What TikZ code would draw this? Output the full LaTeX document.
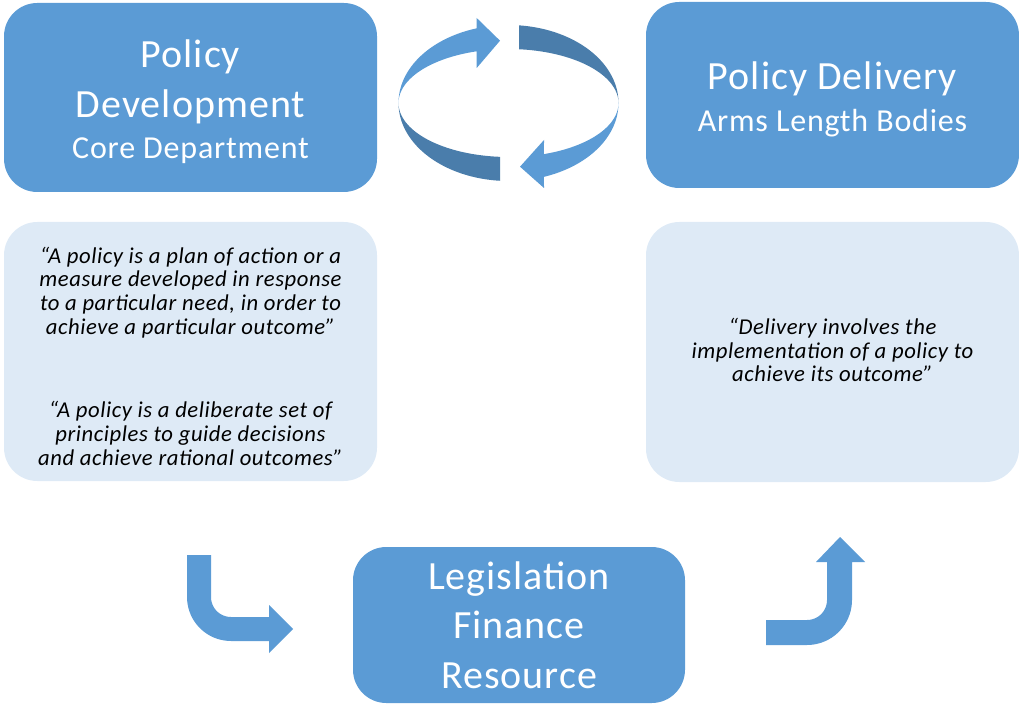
\documentclass[tikz,border=0pt]{standalone}
\usepackage{fontspec}
\setmainfont{Carlito}[LetterSpace=2.5]
\definecolor{boxblue}{HTML}{5B9BD5}
\definecolor{lightblue}{HTML}{DEEAF6}
\definecolor{ringdark}{HTML}{4A7DAB}
\begin{document}
\begin{tikzpicture}[x=0.75pt,y=-0.75pt,
  bigbox/.style={fill=boxblue, rounded corners=25pt, inner sep=0pt},
  quotebox/.style={fill=lightblue, rounded corners=25pt, inner sep=0pt},
  titletext/.style={text=white, align=center, inner sep=0pt, font=\fontsize{30}{37.5}\selectfont},
  quotetext/.style={align=center, inner sep=0pt, font=\fontsize{17}{17.8}\selectfont\itshape},
  ringlight/.style={fill=boxblue},
  ringshade/.style={fill=ringdark},
  bentarrow/.style={fill=boxblue}]
\useasboundingbox (0,0) rectangle (1019,705);

% boxes
\node[bigbox, minimum width=279.75pt, minimum height=141.75pt] (pd) at (190.5,97.5) {};
\node[titletext] (pdt) at (190.5,101.5)
  {Policy\\ Development\\[-6.75pt] {\fontsize{24}{30}\selectfont Core Department}};
\node[bigbox, minimum width=279.75pt, minimum height=139.5pt] (del) at (832.5,95) {};
\node[titletext] (delt) at (832.5,99)
  {Policy Delivery\\[-6pt] {\fontsize{24}{30}\selectfont Arms Length Bodies}};
\node[quotebox, minimum width=279.75pt, minimum height=194.25pt] (q1) at (190.5,351.5) {};
\node[quotetext] (q1t) at (190.5,356)
  {“A policy is a plan of action or a\\ measure developed in response\\ to a particular need, in order to\\ achieve a particular outcome”\\[44.6pt]
   “A policy is a deliberate set of\\ principles to guide decisions\\ and achieve rational outcomes”};
\node[quotebox, minimum width=279.75pt, minimum height=195pt] (q2) at (832.5,352) {};
\node[quotetext] (q2t) at (832.5,350)
  {“Delivery involves the\\ implementation of a policy to\\ achieve its outcome”};
\node[bigbox, minimum width=249pt, minimum height=117pt] (leg) at (519,625) {};
\node[titletext, font=\fontsize{30}{37}\selectfont] (legt) at (519,625)
  {Legislation\\ Finance\\ Resource};

% circular arrows (ring between two ellipses)
\fill[ringlight] plot[domain=180:106.8, samples=50] ({508.5+110*cos(\x)},{103-78*sin(\x)})
  -- (476.7,18) -- (500,40.7) -- (476.7,68)
  -- plot[domain=106.8:180, samples=50] ({508.5+110*cos(\x)},{103-54*sin(\x)}) -- cycle;
\fill[ringshade] plot[domain=84.5:0, samples=50] ({508.5+110*cos(\x)},{103-78*sin(\x)})
  -- plot[domain=0:84.5, samples=50] ({508.5+110*cos(\x)},{103-54*sin(\x)}) -- cycle;
\fill[ringshade] plot[domain=180:265.6, samples=50] ({508.5+110*cos(\x)},{103-78*sin(\x)})
  -- plot[domain=265.6:180, samples=50] ({508.5+110*cos(\x)},{103-54*sin(\x)}) -- cycle;
\fill[ringlight] plot[domain=0:-71.2, samples=50] ({508.5+110*cos(\x)},{103-78*sin(\x)})
  -- (544,188) -- (520,166.7) -- (544,140)
  -- plot[domain=-71.2:0, samples=50] ({508.5+110*cos(\x)},{103-54*sin(\x)}) -- cycle;

% bent arrows
\fill[bentarrow] (187,555) -- (211,555) -- (211,597)
  -- plot[domain=180:90, samples=20] ({231+20*cos(\x)},{597+20*sin(\x)})
  -- (269,617) -- (269,605) -- (293,629) -- (269,653) -- (269,641)
  -- plot[domain=90:180, samples=20] ({231+44*cos(\x)},{597+44*sin(\x)})
  -- cycle;
\fill[bentarrow] (766,620) -- (807,620)
  -- plot[domain=90:0, samples=20] ({807+20*cos(\x)},{600+20*sin(\x)})
  -- (827,562) -- (816,562) -- (840,537) -- (865,562) -- (852,562)
  -- plot[domain=0:90, samples=20] ({807+45*cos(\x)},{600+45*sin(\x)})
  -- (766,645) -- cycle;
\end{tikzpicture}
\end{document}
